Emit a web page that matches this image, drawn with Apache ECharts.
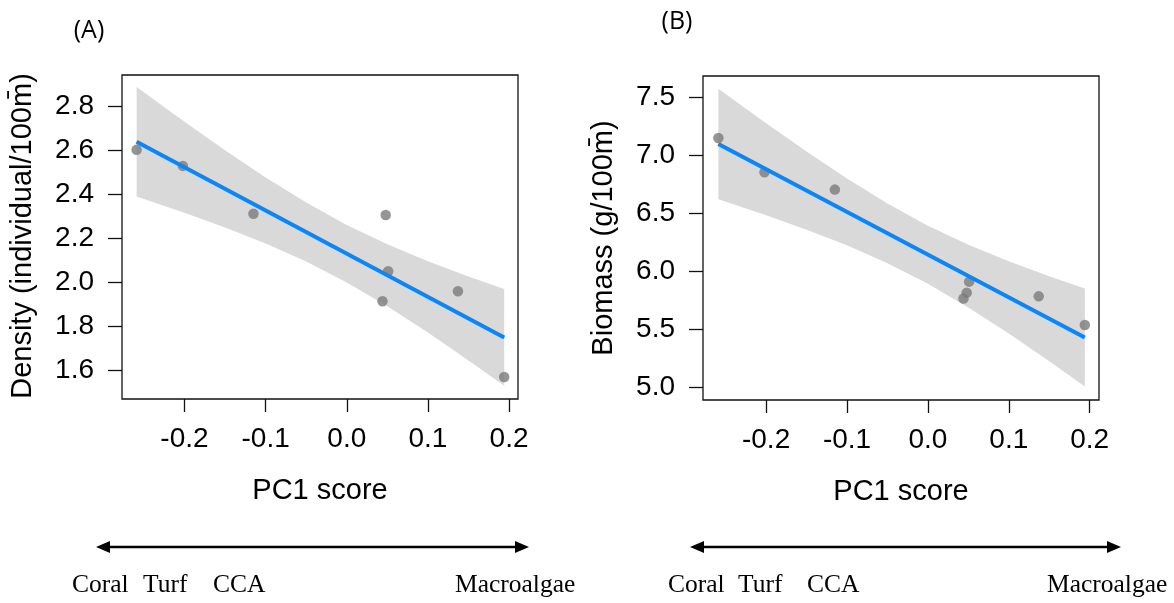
<!DOCTYPE html>
<html>
<head>
<meta charset="utf-8">
<script src="https://cdn.jsdelivr.net/npm/echarts@6/dist/echarts.min.js"></script>
<style>
  html, body { margin: 0; padding: 0; background: #fff; }
  #chart { width: 1174px; height: 603px; }
</style>
</head>
<body>
<div id="chart"></div>
<script>
// PC1 score of each site (shared by both panels)
const pc1 = [-0.259, -0.202, -0.115, 0.048, 0.051, 0.044, 0.137, 0.194];
// Panel A: fish density (individual/100 m2)
const density = [2.603, 2.530, 2.312, 2.306, 2.050, 1.913, 1.959, 1.568];
// Panel B: fish biomass (g/100 m2)
const biomass = [7.152, 6.856, 6.707, 5.819, 5.914, 5.768, 5.787, 5.540];

// Linear fit end points
const fitX = [-0.259, 0.194];
const densityFit = [2.640, 1.748];
const biomassFit = [7.100, 5.432];

// 95% confidence ribbon of the fit
const bandX = [-0.259, -0.2, -0.15, -0.1, -0.05, 0, 0.05, 0.1, 0.15, 0.194];
const densityLo = [2.390, 2.316, 2.249, 2.176, 2.094, 1.999, 1.891, 1.771, 1.643, 1.528];
const densityHi = [2.889, 2.731, 2.601, 2.477, 2.363, 2.261, 2.173, 2.096, 2.026, 1.969];
const biomassLo = [6.624, 6.486, 6.362, 6.227, 6.073, 5.896, 5.692, 5.467, 5.228, 5.010];
const biomassHi = [7.576, 7.279, 7.035, 6.802, 6.587, 6.396, 6.232, 6.089, 5.960, 5.854];

// Tick labels
const xTicks = [-0.2, -0.1, 0.0, 0.1, 0.2];
const densityTicks = [1.6, 1.8, 2.0, 2.2, 2.4, 2.6, 2.8];
const biomassTicks = [5.0, 5.5, 6.0, 6.5, 7.0, 7.5];

const SANS = '"Liberation Sans", Arial, Helvetica, sans-serif';
const SERIF = '"Liberation Serif", "DejaVu Serif", serif';
const INK = '#111';

function pairs(xs, ys) { return xs.map((x, i) => [x, ys[i]]); }

function xAxisFor(grid, min, max) {
  return {
    type: 'value', gridIndex: grid, min: min, max: max,
    axisLine: { show: false, onZero: false },
    splitLine: { show: false },
    axisTick: { show: true, inside: false, length: 13, customValues: xTicks,
      lineStyle: { color: INK, width: 1.3 } },
    axisLabel: { show: true, margin: 26, customValues: xTicks,
      formatter: v => v.toFixed(1),
      fontFamily: SANS, fontSize: 28, color: '#000' }
  };
}
function yAxisFor(grid, min, max, ticks) {
  return {
    type: 'value', gridIndex: grid, min: min, max: max,
    axisLine: { show: false, onZero: false },
    splitLine: { show: false },
    axisTick: { show: true, inside: false, length: 14, customValues: ticks,
      lineStyle: { color: INK, width: 1.3 } },
    axisLabel: { show: true, margin: 28, customValues: ticks,
      formatter: v => v.toFixed(1),
      fontFamily: SANS, fontSize: 28, color: '#000' }
  };
}

function ribbon(axisIdx, lo, hi) {
  return {
    type: 'custom', xAxisIndex: axisIdx, yAxisIndex: axisIdx, z: 1,
    silent: true,
    data: bandX.map((x, i) => [x, lo[i], hi[i]]),
    encode: { x: 0, y: [1, 2] },
    renderItem: function (params, api) {
      if (params.dataIndex !== 0) return null;
      const pts = [];
      for (let i = 0; i < bandX.length; i++) pts.push(api.coord([bandX[i], hi[i]]));
      for (let i = bandX.length - 1; i >= 0; i--) pts.push(api.coord([bandX[i], lo[i]]));
      return { type: 'polygon', shape: { points: pts }, style: { fill: '#d9d9d9' } };
    }
  };
}
function fitLine(axisIdx, ys) {
  return {
    type: 'line', xAxisIndex: axisIdx, yAxisIndex: axisIdx, z: 3,
    data: pairs(fitX, ys), symbol: 'none', silent: true,
    lineStyle: { color: '#0a86f7', width: 4 }
  };
}
function points(axisIdx, ys) {
  return {
    type: 'scatter', xAxisIndex: axisIdx, yAxisIndex: axisIdx, z: 2,
    data: pairs(pc1, ys), symbolSize: 10.5, silent: true,
    itemStyle: { color: '#7a7a7a' }
  };
}

function arrow(x1, x2, y) {
  const h = 6, len = 14;
  return [
    { type: 'line', shape: { x1: x1 + 4, y1: y, x2: x2 - 4, y2: y },
      style: { stroke: '#000', lineWidth: 2.5 } },
    { type: 'polygon', shape: { points: [[x1, y], [x1 + len, y - h], [x1 + len, y + h]] },
      style: { fill: '#000' } },
    { type: 'polygon', shape: { points: [[x2, y], [x2 - len, y - h], [x2 - len, y + h]] },
      style: { fill: '#000' } }
  ];
}
function word(text, x, y, font, size, align) {
  return { type: 'text', x: x, y: y,
    style: { text: text, fontFamily: font, fontSize: size, fill: '#000',
      textAlign: align || 'left', textVerticalAlign: 'middle' } };
}
function vword(text, x, y) {
  return { type: 'text', x: x, y: y, rotation: Math.PI / 2,
    style: { text: text, fontFamily: SANS, fontSize: 29, fill: '#000',
      textAlign: 'center', textVerticalAlign: 'middle' } };
}

const chart = echarts.init(document.getElementById('chart'), null, { renderer: 'canvas' });
chart.setOption({
  backgroundColor: '#fff',
  animation: false,
  grid: [
    { left: 122, top: 75, width: 396, height: 324, show: true, borderColor: INK, borderWidth: 1.3,
      backgroundColor: 'transparent', containLabel: false, outerBoundsMode: 'none' },
    { left: 703, top: 76, width: 396, height: 324, show: true, borderColor: INK, borderWidth: 1.3,
      backgroundColor: 'transparent', containLabel: false, outerBoundsMode: 'none' }
  ],
  xAxis: [xAxisFor(0, -0.277, 0.211), xAxisFor(1, -0.278, 0.2115)],
  yAxis: [yAxisFor(0, 1.468, 2.944, densityTicks), yAxisFor(1, 4.894, 7.686, biomassTicks)],
  series: [
    ribbon(0, densityLo, densityHi), points(0, density), fitLine(0, densityFit),
    ribbon(1, biomassLo, biomassHi), points(1, biomass), fitLine(1, biomassFit)
  ],
  graphic: [
    word('(A)', 89, 31, '"Open Sans", Lato, sans-serif', 25, 'center'),
    word('(B)', 677, 22, '"Open Sans", Lato, sans-serif', 25, 'center'),
    vword('Density (individual/100m\u0304)', 23, 236),
    vword('Biomass (g/100m\u0304)', 604, 238),
    word('PC1 score', 320, 491, SANS, 29, 'center'),
    word('PC1 score', 901, 492, SANS, 29, 'center'),
    ...arrow(96, 529, 547),
    ...arrow(690, 1121, 547),
    word('Coral', 72, 585, SERIF, 25.5),
    word('Turf', 143, 585, SERIF, 25.5),
    word('CCA', 213, 585, SERIF, 25.5),
    word('Macroalgae', 455, 585, SERIF, 25.5),
    word('Coral', 668, 585, SERIF, 25.5),
    word('Turf', 738, 585, SERIF, 25.5),
    word('CCA', 807, 585, SERIF, 25.5),
    word('Macroalgae', 1047, 585, SERIF, 25.5)
  ]
});
</script>
</body>
</html>
